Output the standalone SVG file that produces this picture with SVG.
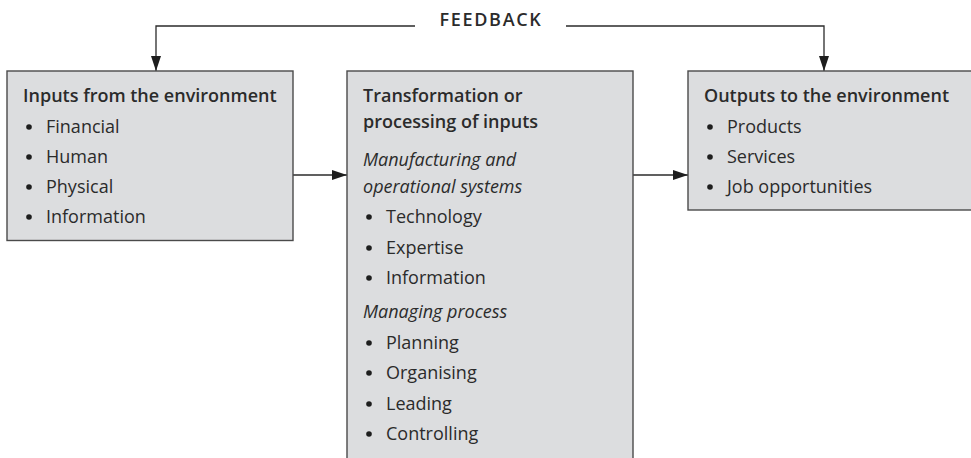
<svg xmlns="http://www.w3.org/2000/svg" width="971" height="458" viewBox="0 0 971 458">
<style>
.box{fill:#dcdddf;stroke:#4a4a4a;stroke-width:1.4}
.t{font-family:"Open Sans","Liberation Sans",sans-serif;font-size:18px;fill:#2b2b2b}
.b{font-weight:600}
.i{font-style:italic}
.ln{fill:none;stroke:#2b2b2b;stroke-width:1.3}
.dot{fill:#1e1e1e}
</style>
<defs>
<marker id="ah" markerWidth="15" markerHeight="10" refX="15" refY="5" orient="auto" markerUnits="userSpaceOnUse">
<path d="M0,0 L15,5 L0,10 Z" fill="#1e1e1e"/>
</marker>
</defs>
<rect width="971" height="458" fill="#fff"/>
<g id="connectors">
<path class="ln" d="M415,26 H156 V71" marker-end="url(#ah)"/>
<path class="ln" d="M566,26 H824 V71" marker-end="url(#ah)"/>
<path class="ln" d="M293,175 H347" marker-end="url(#ah)"/>
<path class="ln" d="M633,175 H688" marker-end="url(#ah)"/>
<text class="t b" x="491" y="26" text-anchor="middle" font-size="20" letter-spacing="1.7">FEEDBACK</text>
</g>
<g id="inputs">
<rect class="box" x="7" y="71" width="286" height="169.5"/>
<text class="t b" x="23" y="102">Inputs from the environment</text>
<circle class="dot" cx="29" cy="127" r="2.8"/><text class="t" x="46" y="133">Financial</text>
<circle class="dot" cx="29" cy="157" r="2.8"/><text class="t" x="46" y="163">Human</text>
<circle class="dot" cx="29" cy="187" r="2.8"/><text class="t" x="46" y="193">Physical</text>
<circle class="dot" cx="29" cy="217" r="2.8"/><text class="t" x="46" y="223">Information</text>
</g>
<g id="transformation">
<rect class="box" x="347" y="71" width="286" height="400"/>
<text class="t b" x="363" y="102">Transformation or</text>
<text class="t b" x="363" y="128">processing of inputs</text>
<text class="t i" x="363" y="166">Manufacturing and</text>
<text class="t i" x="363" y="193">operational systems</text>
<circle class="dot" cx="369" cy="217" r="2.8"/><text class="t" x="386" y="223">Technology</text>
<circle class="dot" cx="369" cy="248" r="2.8"/><text class="t" x="386" y="254">Expertise</text>
<circle class="dot" cx="369" cy="278" r="2.8"/><text class="t" x="386" y="284">Information</text>
<text class="t i" x="363" y="318">Managing process</text>
<circle class="dot" cx="369" cy="343" r="2.8"/><text class="t" x="386" y="349">Planning</text>
<circle class="dot" cx="369" cy="373" r="2.8"/><text class="t" x="386" y="379">Organising</text>
<circle class="dot" cx="369" cy="404" r="2.8"/><text class="t" x="386" y="410">Leading</text>
<circle class="dot" cx="369" cy="434" r="2.8"/><text class="t" x="386" y="440">Controlling</text>
</g>
<g id="outputs">
<rect class="box" x="688" y="71" width="300" height="139"/>
<text class="t b" x="704" y="102">Outputs to the environment</text>
<circle class="dot" cx="710" cy="127" r="2.8"/><text class="t" x="727" y="133">Products</text>
<circle class="dot" cx="710" cy="157" r="2.8"/><text class="t" x="727" y="163">Services</text>
<circle class="dot" cx="710" cy="187" r="2.8"/><text class="t" x="727" y="193">Job opportunities</text>
</g>
</svg>
